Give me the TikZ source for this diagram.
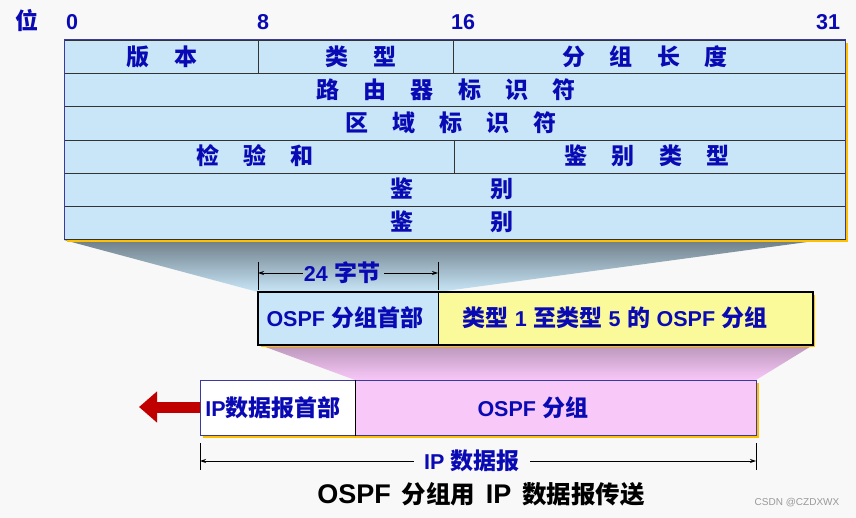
\documentclass[tikz,border=0pt]{standalone}
\usepackage{fontspec}
\setmainfont{Liberation Sans}
\newfontfamily\cjk{Noto Sans CJK SC}
\usetikzlibrary{arrows.meta}
\definecolor{txtblue}{HTML}{0A0AB4}
\definecolor{cellblue}{HTML}{C8E6F8}
\definecolor{cellyellow}{HTML}{FAFA9A}
\definecolor{cellpink}{HTML}{F8C8F8}
\definecolor{shadowyellow}{HTML}{FFC000}
\definecolor{navy}{HTML}{3A3AA0}
\definecolor{bg}{HTML}{F8F8F8}
\definecolor{darkred}{HTML}{C00000}
\newcommand\zh[1]{{\cjk\fontsize{23}{23}\selectfont #1}}
\newcommand\zhc[1]{{\cjk\fontsize{24.5}{24.5}\selectfont #1}}
\newcommand\gp{\hspace{1.05em}}
\newcommand\sps{\hspace{0.3em}}
\tikzset{
  txt/.style={text=txtblue, font=\bfseries\fontsize{21.5}{21.5}\selectfont, inner sep=0pt},
  cell/.style={draw=black!80, line width=0.6pt, fill=cellblue, inner sep=0pt, text=txtblue,
               font=\bfseries\fontsize{21.5}{21.5}\selectfont},
  box/.style={draw=black, line width=1.1pt, inner sep=0pt, text=txtblue,
               font=\bfseries\fontsize{21.5}{21.5}\selectfont},
  ipbox/.style={draw=navy, line width=0.9pt, inner sep=0pt, text=txtblue,
               font=\bfseries\fontsize{21.5}{21.5}\selectfont},
  dimline/.style={line width=0.8pt, -{Stealth[length=6pt,width=4pt]}},
  tick/.style={line width=0.7pt},
}
\begin{document}
\begin{tikzpicture}[x=1pt,y=-1pt]
\fill[bg] (0,0) rectangle (856,518);
\useasboundingbox (0,0) rectangle (856,518);

% funnels
\shade[top color=black!45!cellblue, bottom color=cellblue] (64,240) -- (822,240) -- (438,292) -- (258,292) -- cycle;
\shade[top color=black!25!cellpink, bottom color=cellpink] (260,345) -- (813,345) -- (756,380) -- (355,380) -- cycle;

% table shadow
\fill[shadowyellow] (67,43) rectangle (848,242);

% bit labels
\node[txt] (wei) at (27,21) {\zh{位}};
\node[txt] (b0) at (72,22) {0};
\node[txt] (b8) at (263,22) {8};
\node[txt] (b16) at (463,22) {16};
\node[txt] (b31) at (828,22) {31};

% table rows
\node[cell, minimum width=194pt, minimum height=33.2pt, anchor=north west] (ver) at (64,40) {};
\node[txt] at (162,57) {\zh{版\gp 本}};
\node[cell, minimum width=195pt, minimum height=33.2pt, anchor=north west] (typ) at (258,40) {};
\node[txt] at (361,57) {\zh{类\gp 型}};
\node[cell, minimum width=392pt, minimum height=33.2pt, anchor=north west] (len) at (453,40) {};
\node[txt] at (645,57) {\zh{分\gp 组\gp 长\gp 度}};

\node[cell, minimum width=781pt, minimum height=33.2pt, anchor=north west] (rid) at (64,73.2) {};
\node[txt] at (446,90) {\zh{路\gp 由\gp 器\gp 标\gp 识\gp 符}};

\node[cell, minimum width=781pt, minimum height=33.2pt, anchor=north west] (aid) at (64,106.4) {};
\node[txt] at (451,123) {\zh{区\gp 域\gp 标\gp 识\gp 符}};

\node[cell, minimum width=390pt, minimum height=33.2pt, anchor=north west] (chk) at (64,139.6) {};
\node[txt] at (255,156) {\zh{检\gp 验\gp 和}};
\node[cell, minimum width=391pt, minimum height=33.2pt, anchor=north west] (aut) at (454,139.6) {};
\node[txt] at (647,156) {\zh{鉴\gp 别\gp 类\gp 型}};

\node[cell, minimum width=781pt, minimum height=33.2pt, anchor=north west] (au1) at (64,172.8) {};
\node[txt] at (452,189) {\zh{鉴\hspace{3.35em}别}};
\node[cell, minimum width=781pt, minimum height=33.2pt, anchor=north west] (au2) at (64,206) {};
\node[txt] at (452,222) {\zh{鉴\hspace{3.35em}别}};
\draw[navy, line width=1pt] (64,239.2) |- (845,40) -- (845,239.2);

% OSPF packet
\fill[shadowyellow] (261,295) rectangle (815,347);
\node[box, fill=cellblue, minimum width=180pt, minimum height=52pt, anchor=north west] (ohdr) at (258,292) {};
\node[box, fill=cellyellow, minimum width=374pt, minimum height=52pt, anchor=north west] (obody) at (438,292) {};
\draw[black, line width=1.1pt] (ohdr.north west) rectangle (obody.south east);
\node[txt] (ohdrt) at (345,318) {OSPF\sps\zh{分组首部}};
\node[txt] (obodyt) at (615,318) {\zh{类型}\sps 1\sps\zh{至类型}\sps 5\sps\zh{的}\sps OSPF\sps\zh{分组}};

% 24 bytes dimension
\coordinate (t1a) at (258,262); \coordinate (t1b) at (258,290);
\coordinate (t2a) at (438,262); \coordinate (t2b) at (438,290);
\draw[tick] (t1a) -- (t1b);
\draw[tick] (t2a) -- (t2b);
\node[txt] (d24) at (342,273) {24\sps\zh{字节}};
\draw[dimline] (d24.west) ++(-1,0) -- (t1a |- d24);
\draw[dimline] (d24.east) ++(4,0) -- (t2a |- d24);

% IP datagram
\fill[shadowyellow] (203,383) rectangle (759,438);
\node[ipbox, fill=white, minimum width=155pt, minimum height=55pt, anchor=north west] (iphdr) at (200,380) {};
\node[ipbox, fill=cellpink, minimum width=401pt, minimum height=55pt, anchor=north west] (ipbody) at (355,380) {};
\draw[black, line width=0.6pt] (ipbody.north west) -- (ipbody.south west);
\node[txt] (iphdrt) at (273,408) {IP\zh{数据报首部}};
\node[txt] (ipbodyt) at (533,408) {OSPF\sps\zh{分组}};

% red arrow
\coordinate (redtip) at (139,407);
\draw[darkred, line width=11pt, -{Triangle[length=18pt,width=30pt]}] (iphdr.west |- redtip) -- (redtip);

% IP datagram dimension
\coordinate (t3a) at (200,443); \coordinate (t3b) at (200,470);
\coordinate (t4a) at (756,443); \coordinate (t4b) at (756,470);
\draw[tick] (t3a) -- (t3b);
\draw[tick] (t4a) -- (t4b);
\node[txt] (dip) at (472,461) {IP\sps\zh{数据报}};
\draw[dimline] (dip.west) ++(-10,0) -- (t3a |- dip);
\draw[dimline] (dip.east) ++(10,0) -- (t4a |- dip);

% caption
\node[inner sep=0pt, font=\bfseries\fontsize{27}{27}\selectfont] (cap) at (481,494) {OSPF\hspace{0.4em}\zhc{分组用}\hspace{0.4em}IP\hspace{0.4em}\zhc{数据报传送}};
\node[inner sep=0pt, text=black!40, font=\fontsize{10}{10}\selectfont] (wm) at (797,503) {CSDN @CZDXWX};
\end{tikzpicture}
\end{document}
